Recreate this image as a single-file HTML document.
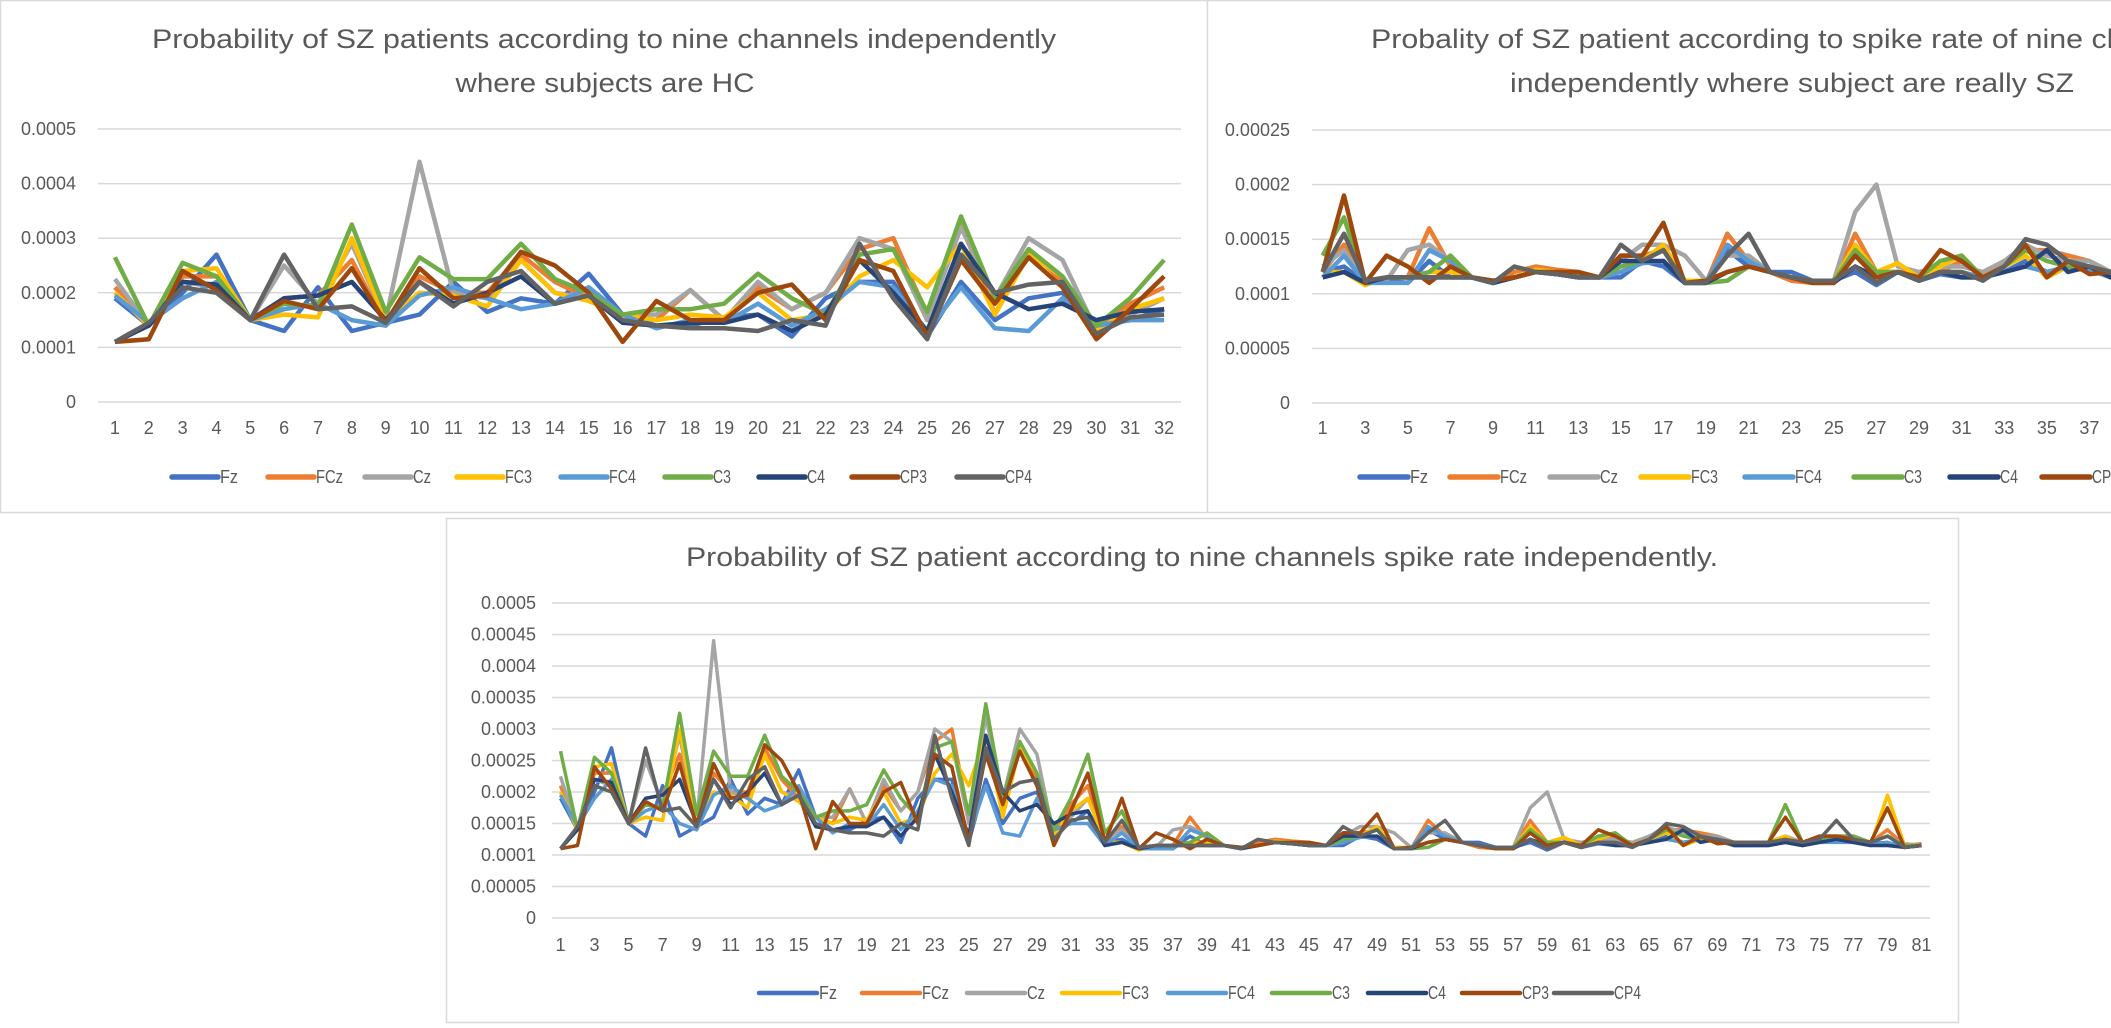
<!DOCTYPE html>
<html><head><meta charset="utf-8"><title>SZ probability charts</title>
<style>
html,body{margin:0;padding:0;background:#fff;}
svg{display:block;}
text{font-family:"Liberation Sans Narrow","Liberation Sans",sans-serif;fill:#595959;}
</style></head>
<body>
<svg id="root" width="2111" height="1028" viewBox="0 0 2111 1028" xmlns="http://www.w3.org/2000/svg"></svg>
<script>
const seriesNames = ["Fz","FCz","Cz","FC3","FC4","C3","C4","CP3","CP4"];
const seriesColors = ["#4472C4","#ED7D31","#A5A5A5","#FFC000","#5B9BD5","#70AD47","#264478","#9E480E","#636363"];
// HC subjects (x1e-4), 32 points each
const hcFz  = [1.9,1.4,2.0,2.7,1.5,1.3,2.1,1.3,1.45,1.6,2.2,1.65,1.9,1.8,2.35,1.6,1.4,1.4,1.55,1.6,1.2,1.9,2.2,2.2,1.2,2.2,1.5,1.9,2.0,1.4,1.5,1.7];
const hcFCz = [2.1,1.4,2.3,2.3,1.5,1.9,1.95,2.6,1.4,2.3,2.0,2.0,2.7,2.2,1.9,1.6,1.5,2.05,1.5,2.1,1.7,2.0,2.8,3.0,1.6,3.3,1.6,2.8,2.2,1.3,1.8,2.1];
const hcCz  = [2.25,1.4,2.2,2.1,1.5,2.5,1.8,2.9,1.5,4.4,2.0,1.9,2.6,2.0,1.9,1.6,1.6,2.05,1.5,2.2,1.7,2.0,3.0,2.8,1.5,3.2,1.9,3.0,2.6,1.3,1.6,1.9];
const hcFC3 = [2.0,1.4,2.4,2.45,1.5,1.6,1.55,3.0,1.5,2.0,1.95,1.75,2.6,2.0,1.85,1.6,1.5,1.6,1.55,2.0,1.5,1.6,2.3,2.6,2.1,2.9,1.6,2.7,2.3,1.3,1.7,1.9];
const hcFC4 = [1.95,1.45,1.9,2.2,1.5,1.7,1.8,1.5,1.4,1.95,2.1,1.9,1.7,1.8,2.1,1.6,1.35,1.5,1.45,1.8,1.4,1.7,2.2,2.1,1.3,2.1,1.35,1.3,1.9,1.4,1.5,1.5];
const hcC3  = [2.65,1.4,2.55,2.3,1.5,1.8,1.75,3.25,1.65,2.65,2.25,2.25,2.9,2.25,2.0,1.6,1.7,1.7,1.8,2.35,1.9,1.6,2.7,2.8,1.65,3.4,1.9,2.8,2.3,1.4,1.9,2.6];
const hcC4  = [1.1,1.4,2.2,2.15,1.5,1.9,1.95,2.2,1.5,2.2,1.8,2.0,2.3,1.8,1.95,1.45,1.4,1.45,1.45,1.6,1.3,1.6,2.6,2.0,1.3,2.9,2.0,1.7,1.8,1.5,1.65,1.7];
const hcCP3 = [1.1,1.15,2.4,2.05,1.5,1.85,1.7,2.45,1.45,2.45,1.9,1.95,2.75,2.5,2.0,1.1,1.85,1.5,1.5,2.0,2.15,1.5,2.6,2.4,1.2,2.6,1.8,2.65,2.1,1.15,1.7,2.3];
const hcCP4 = [1.1,1.45,2.1,2.0,1.5,2.7,1.7,1.75,1.45,2.2,1.75,2.2,2.4,1.8,1.95,1.5,1.4,1.35,1.35,1.3,1.5,1.4,2.9,1.9,1.15,2.7,2.0,2.15,2.2,1.25,1.55,1.6];
// SZ subjects (x1e-4), 49 points each
const szFz  = [1.2,1.25,1.1,1.12,1.1,1.3,1.15,1.15,1.1,1.15,1.2,1.18,1.15,1.15,1.15,1.3,1.25,1.1,1.1,1.4,1.25,1.2,1.2,1.12,1.12,1.2,1.08,1.2,1.12,1.18,1.15,1.15,1.2,1.3,1.2,1.25,1.22,1.15,1.15,1.15,1.2,1.15,1.2,1.25,1.2,1.18,1.2,1.12,1.15];
const szFCz = [1.2,1.45,1.1,1.15,1.15,1.6,1.25,1.15,1.1,1.2,1.25,1.22,1.2,1.15,1.35,1.35,1.4,1.1,1.1,1.55,1.3,1.2,1.12,1.1,1.1,1.55,1.2,1.2,1.2,1.2,1.3,1.15,1.3,1.4,1.4,1.35,1.3,1.2,1.2,1.2,1.3,1.2,1.3,1.3,1.3,1.2,1.4,1.15,1.18];
const szCz  = [1.25,1.4,1.1,1.12,1.4,1.45,1.3,1.15,1.1,1.15,1.2,1.18,1.17,1.15,1.3,1.45,1.45,1.35,1.12,1.35,1.35,1.2,1.15,1.12,1.12,1.75,2.0,1.25,1.2,1.25,1.25,1.2,1.3,1.45,1.35,1.3,1.3,1.2,1.2,1.2,1.3,1.2,1.25,1.3,1.25,1.2,1.3,1.18,1.15];
const szFC3 = [1.2,1.2,1.08,1.15,1.15,1.2,1.2,1.15,1.12,1.15,1.22,1.2,1.17,1.15,1.2,1.3,1.45,1.12,1.12,1.2,1.25,1.2,1.15,1.12,1.12,1.45,1.2,1.28,1.15,1.25,1.35,1.15,1.25,1.35,1.15,1.25,1.2,1.2,1.15,1.2,1.3,1.15,1.3,1.25,1.25,1.15,1.95,1.15,1.15];
const szFC4 = [1.15,1.35,1.1,1.1,1.1,1.4,1.3,1.15,1.1,1.15,1.2,1.18,1.15,1.15,1.2,1.28,1.3,1.1,1.1,1.45,1.3,1.2,1.15,1.12,1.12,1.25,1.1,1.2,1.12,1.2,1.2,1.15,1.2,1.25,1.2,1.25,1.22,1.15,1.15,1.18,1.2,1.15,1.2,1.2,1.2,1.15,1.2,1.12,1.15];
const szC3  = [1.35,1.7,1.1,1.15,1.15,1.2,1.35,1.15,1.12,1.15,1.2,1.18,1.17,1.15,1.25,1.3,1.4,1.1,1.1,1.12,1.25,1.2,1.15,1.12,1.12,1.4,1.2,1.2,1.15,1.3,1.35,1.15,1.25,1.4,1.3,1.25,1.25,1.2,1.2,1.2,1.8,1.2,1.25,1.3,1.3,1.2,1.3,1.15,1.15];
const szC4  = [1.15,1.2,1.1,1.15,1.15,1.15,1.15,1.15,1.1,1.15,1.2,1.18,1.15,1.15,1.3,1.3,1.3,1.1,1.1,1.2,1.25,1.2,1.15,1.1,1.1,1.25,1.15,1.2,1.12,1.2,1.15,1.15,1.2,1.25,1.4,1.2,1.25,1.15,1.15,1.15,1.2,1.15,1.2,1.25,1.2,1.15,1.15,1.12,1.15];
const szCP3 = [1.2,1.9,1.1,1.35,1.25,1.1,1.25,1.15,1.12,1.15,1.2,1.2,1.2,1.15,1.35,1.35,1.65,1.1,1.12,1.2,1.25,1.2,1.15,1.1,1.1,1.35,1.15,1.2,1.15,1.4,1.3,1.15,1.25,1.45,1.15,1.3,1.18,1.2,1.2,1.2,1.6,1.2,1.3,1.3,1.25,1.2,1.75,1.12,1.15];
const szCP4 = [1.2,1.55,1.12,1.15,1.15,1.15,1.15,1.15,1.1,1.25,1.2,1.18,1.15,1.15,1.45,1.3,1.4,1.1,1.1,1.35,1.55,1.2,1.15,1.12,1.12,1.25,1.1,1.2,1.12,1.2,1.2,1.12,1.25,1.5,1.45,1.3,1.25,1.2,1.2,1.2,1.25,1.2,1.25,1.55,1.25,1.2,1.3,1.12,1.15];
const yTicksA = ["0","0.0001","0.0002","0.0003","0.0004","0.0005"];
const yTicksB = ["0","0.00005","0.0001","0.00015","0.0002","0.00025"];
const yTicksC = ["0","0.00005","0.0001","0.00015","0.0002","0.00025","0.0003","0.00035","0.0004","0.00045","0.0005"];

const hcAll = [hcFz,hcFCz,hcCz,hcFC3,hcFC4,hcC3,hcC4,hcCP3,hcCP4];
const szAll = [szFz,szFCz,szCz,szFC3,szFC4,szC3,szC4,szCP3,szCP4];

const NS = "http://www.w3.org/2000/svg";
const root = document.getElementById('root');
function mk(tag, attrs, parent){
  const e = document.createElementNS(NS, tag);
  for (const k in attrs) e.setAttribute(k, attrs[k]);
  (parent||root).appendChild(e);
  return e;
}

function chart(cfg){
  const g = mk('g', {});
  
  
  const frame = mk('rect', {x:cfg.px+0.5, y:cfg.py+0.5, width:cfg.pw, height:cfg.ph, fill:'#fff', stroke:'#d9d9d9', 'stroke-width':1.5}, g);
  
  
  cfg.titles.forEach((t, i) => {
    const tx = mk('text', {x:t.cx, y:t.y, 'text-anchor':'middle', 'font-size':cfg.titleSize, textLength:t.w, lengthAdjust:'spacingAndGlyphs'}, g);
    tx.textContent = t.s;
    
    
  });
  const n = cfg.n;
  const bw = (cfg.x1 - cfg.x0) / n;
  const xOf = i => cfg.x0 + bw * (i + 0.5);
  const yOf = v => cfg.y0 - (v - 0) / (cfg.vmax) * (cfg.y0 - cfg.yTop);
  cfg.yTicks.forEach((lab, k) => {
    const val = cfg.vmax * k / (cfg.yTicks.length - 1);
    const y = yOf(val);
    const gl = mk('line', {x1:cfg.x0, x2:cfg.x1, y1:y, y2:y, stroke:'#d9d9d9', 'stroke-width':1.5}, g);
    
    
    const tl = mk('text', {x:cfg.yLabRight, y:y+6, 'text-anchor':'end', 'font-size':cfg.tickSize}, g);
    tl.textContent = lab;
    
    
  });
  for (let i = 0; i < n; i += cfg.xStep){
    const tl = mk('text', {x:xOf(i), y:cfg.xLabY, 'text-anchor':'middle', 'font-size':cfg.tickSize}, g);
    tl.textContent = String(i + 1);
    
    
  }
  cfg.data.forEach((arr, s) => {
    const pts = arr.map((v, i) => xOf(i).toFixed(1) + ',' + yOf(v * 1e-4).toFixed(1)).join(' ');
    const pl = mk('polyline', {points:pts, fill:'none', stroke:seriesColors[s], 'stroke-width':cfg.lw, 'stroke-linejoin':'round'}, g);
    
    
  });
  cfg.legendX.forEach((lx, s) => {
    const lg = mk('g', {}, g);
    
    
    const ln = mk('line', {x1:lx, x2:lx + cfg.legLen, y1:cfg.legY, y2:cfg.legY, stroke:seriesColors[s], 'stroke-width':cfg.lw + 1, 'stroke-linecap':'round'}, lg);
    
    
    const lt = mk('text', {x:lx + cfg.legLen + 2, y:cfg.legY + 6, 'font-size':cfg.tickSize, textLength:seriesNames[s].length * 9, lengthAdjust:'spacingAndGlyphs'}, lg);
    lt.textContent = seriesNames[s];
    
    
  });
}

chart({name:'chart-hc', px:0, py:0, pw:1207, ph:512, titleSize:27,
  titles:[{s:'Probability of SZ patients according to nine channels independently', cx:604, y:48, w:904},
          {s:'where subjects are HC', cx:605, y:92, w:299}],
  n:32, x0:98, x1:1181, yTop:129, y0:402, vmax:0.0005, yTicks:yTicksA, yLabRight:76, tickSize:18,
  xStep:1, xLabY:434, lw:4.5, data:hcAll,
  legendX:[172,268,365,457,561,665,759,852,957], legLen:46, legY:477});

chart({name:'chart-sz', px:1207, py:0, pw:1000, ph:512, titleSize:27,
  titles:[{s:'Probality of SZ patient according to spike rate of nine channels', cx:1792, y:48, w:842},
          {s:'independently where subject are really SZ', cx:1792, y:92, w:564}],
  n:49, x0:1312, x1:1312 + 49*21.3, yTop:130, y0:403, vmax:0.00025, yTicks:yTicksB, yLabRight:1290, tickSize:18,
  xStep:2, xLabY:434, lw:4.5, data:szAll,
  legendX:[1360,1450,1550,1641,1745,1854,1950,2042,2140], legLen:48, legY:477});

const allData = hcAll.map((a, s) => a.concat(szAll[s]));
chart({name:'chart-combined', px:446, py:518, pw:1512, ph:504, titleSize:27,
  titles:[{s:'Probability of SZ patient according to nine channels spike rate independently.', cx:1202, y:566, w:1032}],
  n:81, x0:552, x1:1930, yTop:603, y0:918, vmax:0.0005, yTicks:yTicksC, yLabRight:536, tickSize:18,
  xStep:2, xLabY:951, lw:3.5, data:allData,
  legendX:[759,862,967,1062,1168,1272,1368,1462,1554], legLen:58, legY:993});
</script>
</body></html>
